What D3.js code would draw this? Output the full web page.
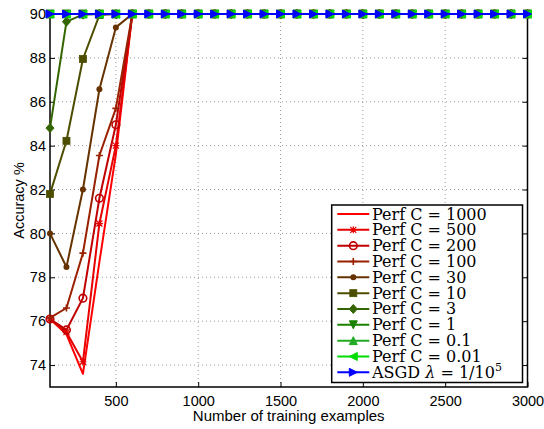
<!DOCTYPE html>
<html><head><meta charset="utf-8">
<script src="https://cdn.jsdelivr.net/npm/d3@7"></script>
<style>body{margin:0;background:#fff}svg{display:block}</style>
</head><body>
<svg id="c" width="544" height="429"></svg>
<script>
const xs = [100,200,300,400,500,600,700,800,900,1000,1100,1200,1300,1400,1500,1600,1700,1800,1900,2000,2100,2200,2300,2400,2500,2600,2700,2800,2900,3000];
const c1000 = [76.1,75.4,73.6,78.7,83.6,90,90,90,90,90,90,90,90,90,90,90,90,90,90,90,90,90,90,90,90,90,90,90,90,90];
const c500  = [76.1,75.5,74.15,80.45,84.0,90,90,90,90,90,90,90,90,90,90,90,90,90,90,90,90,90,90,90,90,90,90,90,90,90];
const c200  = [76.1,75.6,77.05,81.6,84.95,90,90,90,90,90,90,90,90,90,90,90,90,90,90,90,90,90,90,90,90,90,90,90,90,90];
const c100  = [76.15,76.6,79.1,83.55,85.7,90,90,90,90,90,90,90,90,90,90,90,90,90,90,90,90,90,90,90,90,90,90,90,90,90];
const c30   = [80.0,78.47,82.0,86.57,89.39,90,90,90,90,90,90,90,90,90,90,90,90,90,90,90,90,90,90,90,90,90,90,90,90,90];
const c10   = [81.8,84.22,87.95,89.95,90,90,90,90,90,90,90,90,90,90,90,90,90,90,90,90,90,90,90,90,90,90,90,90,90,90];
const c3    = [84.8,89.65,89.97,90,90,90,90,90,90,90,90,90,90,90,90,90,90,90,90,90,90,90,90,90,90,90,90,90,90,90];
const c1    = [90,90,90,90,90,90,90,90,90,90,90,90,90,90,90,90,90,90,90,90,90,90,90,90,90,90,90,90,90,90];
const c01   = [90,90,90,90,90,90,90,90,90,90,90,90,90,90,90,90,90,90,90,90,90,90,90,90,90,90,90,90,90,90];
const c001  = [90,90,90,90,90,90,90,90,90,90,90,90,90,90,90,90,90,90,90,90,90,90,90,90,90,90,90,90,90,90];
const asgd  = [90,90,90,90,90,90,90,90,90,90,90,90,90,90,90,90,90,90,90,90,90,90,90,90,90,90,90,90,90,90];
const labels = ["1000","500","200","100","30","10","3","1","0.1","0.01"];
const xTicks = [500,1000,1500,2000,2500,3000];
const yTicks = [74,76,78,80,82,84,86,88,90];

const series = [
  {name:"1000", vals:c1000, color:"#ff0000", mk:"none"},
  {name:"500",  vals:c500,  color:"#e60000", mk:"star"},
  {name:"200",  vals:c200,  color:"#c00000", mk:"circle"},
  {name:"100",  vals:c100,  color:"#992000", mk:"plus"},
  {name:"30",   vals:c30,   color:"#663300", mk:"dot"},
  {name:"10",   vals:c10,   color:"#4d4d00", mk:"square"},
  {name:"3",    vals:c3,    color:"#336600", mk:"diamond"},
  {name:"1",    vals:c1,    color:"#1a8000", mk:"tdown"},
  {name:"0.1",  vals:c01,   color:"#22aa22", mk:"tup"},
  {name:"0.01", vals:c001,  color:"#00dd00", mk:"tleft"},
  {name:"asgd", vals:asgd,  color:"#0000ff", mk:"tright"}
];

const L=50,R=527.5,T=14,B=387;
const x = d3.scaleLinear().domain([100,3000]).range([L,R]);
const y = d3.scaleLinear().domain([73,90]).range([B,T]);
const svg = d3.select("#c");
const sans = "'Liberation Sans', Arial, sans-serif";
const serif = "'DejaVu Serif', serif";
const fs = 14.5;

// grid
const g = svg.append("g");
g.selectAll(".gx").data(xTicks.filter(d=>d<3000)).enter().append("line")
  .attr("x1",d=>x(d)).attr("x2",d=>x(d)).attr("y1",T).attr("y2",B)
  .attr("stroke","#999").attr("stroke-width",1).attr("stroke-dasharray","1,3");
g.selectAll(".gy").data(yTicks.filter(d=>d<90)).enter().append("line")
  .attr("y1",d=>y(d)).attr("y2",d=>y(d)).attr("x1",L).attr("x2",R)
  .attr("stroke","#999").attr("stroke-width",1).attr("stroke-dasharray","1,3");

// axes (inward ticks)
const fmt = d3.format("d");
const xb = d3.axisBottom(x).tickValues(xTicks).tickSizeInner(-5).tickSizeOuter(0).tickPadding(9).tickFormat(fmt);
const xt = d3.axisTop(x).tickValues(xTicks).tickSizeInner(-5).tickSizeOuter(0).tickFormat("");
const yl = d3.axisLeft(y).tickValues(yTicks).tickSizeInner(-5).tickSizeOuter(0).tickPadding(4).tickFormat(fmt);
const yr = d3.axisRight(y).tickValues(yTicks).tickSizeInner(-5).tickSizeOuter(0).tickFormat("");
function style(sel){sel.select(".domain").remove();sel.selectAll("line").attr("stroke","#000").attr("stroke-width",1);sel.selectAll("text").attr("font-family",sans).attr("font-size",fs).attr("fill","#000");}
svg.append("g").attr("transform",`translate(0,${B})`).call(xb).call(style);
svg.append("g").attr("transform",`translate(0,${T})`).call(xt).call(style);
svg.append("g").attr("transform",`translate(${L},0)`).call(yl).call(style);
svg.append("g").attr("transform",`translate(${R},0)`).call(yr).call(style);
svg.append("rect").attr("x",L).attr("y",T).attr("width",R-L).attr("height",B-T)
  .attr("fill","none").attr("stroke","#000").attr("stroke-width",1.5);

svg.append("text").attr("x",(L+R)/2).attr("y",421).attr("text-anchor","middle")
  .attr("font-family",sans).attr("font-size",fs+0.5).text("Number of training examples");
svg.append("text").attr("transform",`translate(24,${(T+B)/2}) rotate(-90)`).attr("text-anchor","middle")
  .attr("font-family",sans).attr("font-size",fs).text("Accuracy %");

// markers
function marker(sel, type, color, cx, cy){
  const s = 4;
  if(type==="none") return;
  if(type==="star"){
    const p = `M${cx-3},${cy-3}L${cx+3},${cy+3}M${cx-3},${cy+3}L${cx+3},${cy-3}M${cx-3.5},${cy}L${cx+3.5},${cy}M${cx},${cy-3.5}L${cx},${cy+3.5}`;
    sel.append("path").attr("d",p).attr("stroke",color).attr("stroke-width",1.2).attr("fill","none");
  } else if(type==="circle"){
    sel.append("circle").attr("cx",cx).attr("cy",cy).attr("r",3.8).attr("fill","none").attr("stroke",color).attr("stroke-width",1.6);
  } else if(type==="plus"){
    sel.append("path").attr("d",`M${cx-3.5},${cy}L${cx+3.5},${cy}M${cx},${cy-3.5}L${cx},${cy+3.5}`).attr("stroke",color).attr("stroke-width",1.6);
  } else if(type==="dot"){
    sel.append("circle").attr("cx",cx).attr("cy",cy).attr("r",3).attr("fill",color);
  } else if(type==="square"){
    sel.append("rect").attr("x",cx-3.5).attr("y",cy-3.5).attr("width",7).attr("height",7).attr("fill",color).attr("stroke",color).attr("stroke-width",0.8);
  } else if(type==="diamond"){
    sel.append("path").attr("d",`M${cx},${cy-4.5}L${cx+4},${cy}L${cx},${cy+4.5}L${cx-4},${cy}Z`).attr("fill",color).attr("stroke",color).attr("stroke-width",1);
  } else {
    let p;
    if(type==="tdown") p=`M${cx-s},${cy-s}L${cx+s},${cy-s}L${cx},${cy+s}Z`;
    if(type==="tup") p=`M${cx-s},${cy+s}L${cx+s},${cy+s}L${cx},${cy-s}Z`;
    if(type==="tleft") p=`M${cx+s},${cy-s}L${cx+s},${cy+s}L${cx-s},${cy}Z`;
    if(type==="tright") p=`M${cx-s},${cy-s}L${cx-s},${cy+s}L${cx+s},${cy}Z`;
    sel.append("path").attr("d",p).attr("fill",color).attr("stroke",color).attr("stroke-width",1);
  }
}

const line = d3.line().x(d=>x(d[0])).y(d=>y(d[1]));
const plot = svg.append("g");
series.forEach(s=>{
  const pts = xs.map((xv,i)=>[xv,s.vals[i]]);
  const gg = plot.append("g");
  gg.append("path").datum(pts).attr("d",line).attr("fill","none").attr("stroke",s.color).attr("stroke-width",2).attr("stroke-linejoin","round");
  pts.forEach(p=>marker(gg,s.mk,s.color,x(p[0]),y(p[1])));
});

// legend
const lg = svg.append("g");
lg.append("rect").attr("x",331.7).attr("y",205).attr("width",190.8).attr("height",177.5)
  .attr("fill","#fff").attr("stroke","#000").attr("stroke-width",1.5);
series.forEach((s,i)=>{
  const cy = 214 + i*15.83;
  lg.append("line").attr("x1",337.3).attr("x2",369.3).attr("y1",cy).attr("y2",cy).attr("stroke",s.color).attr("stroke-width",2);
  marker(lg,s.mk,s.color,353.3,cy);
  const t = lg.append("text").attr("x",372).attr("y",cy+5.5).attr("font-family",serif).attr("font-size",16).attr("fill","#000");
  if(i<labels.length){
    t.text("Perf C = "+labels[i]);
  } else {
    t.append("tspan").text("ASGD ");
    t.append("tspan").attr("font-style","italic").text("λ");
    t.append("tspan").text(" = 1/10");
    t.append("tspan").attr("font-size",11).attr("dy",-7).text("5");
  }
});
</script>
</body></html>
